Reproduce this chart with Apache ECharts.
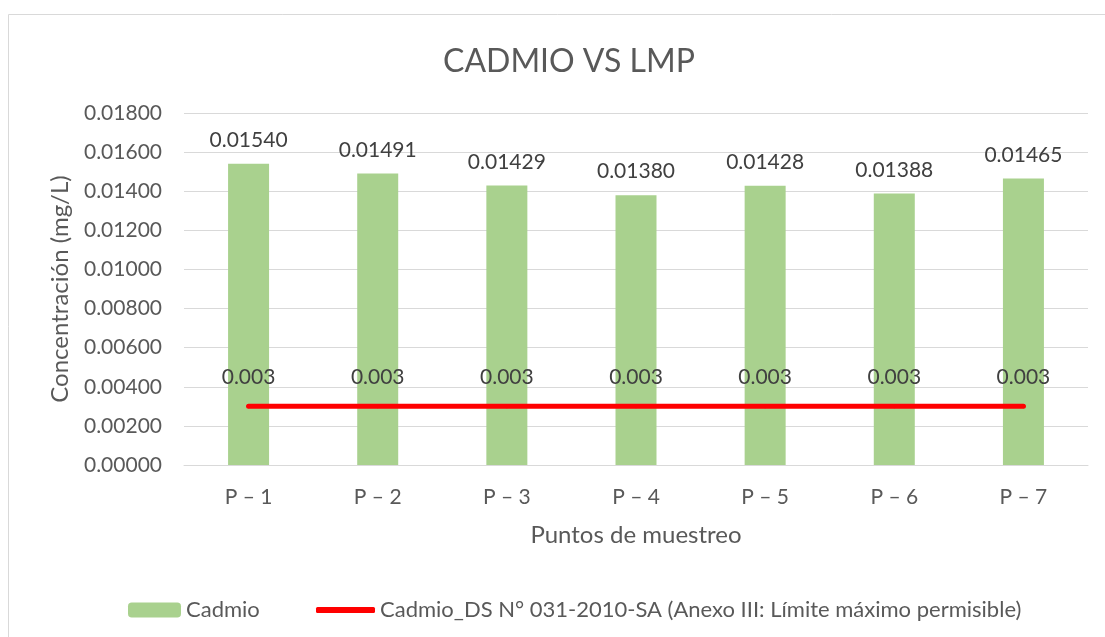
<!DOCTYPE html>
<html>
<head>
<meta charset="utf-8">
<script src="https://cdn.jsdelivr.net/npm/echarts@6/dist/echarts.min.js"></script>
<style>
  html, body { margin: 0; padding: 0; background: #fff; }
  #chart { width: 1105px; height: 637px; }
</style>
</head>
<body>
<div id="chart"></div>
<script>
const categories = ['P – 1', 'P – 2', 'P – 3', 'P – 4', 'P – 5', 'P – 6', 'P – 7']
const cadmio = [0.01540, 0.01491, 0.01429, 0.01380, 0.01428, 0.01388, 0.01465]
const lmp = [0.003, 0.003, 0.003, 0.003, 0.003, 0.003, 0.003]
const yTicks = { min: 0, max: 0.018, interval: 0.002 }

const font = 'Lato, "Noto Sans", sans-serif'
const grey = '#595959'
const lmpName = 'Cadmio_DS N° 031-2010-SA (Anexo III: Límite máximo permisible)'

const chart = echarts.init(document.getElementById('chart'))

chart.setOption({
  animation: false,
  textStyle: { fontFamily: font },
  graphic: [{
    type: 'rect',
    shape: { x: 8.5, y: 14.5, width: 1300, height: 800 },
    style: { fill: 'none', stroke: '#d9d9d9', lineWidth: 1 },
    silent: true
  }],
  title: {
    text: 'CADMIO VS LMP',
    left: 438,
    top: 41,
    textStyle: { fontFamily: font, fontSize: 32, fontWeight: 'normal', color: grey }
  },
  legend: [{
    data: ['Cadmio'],
    left: 123,
    top: 594,
    itemWidth: 53,
    itemHeight: 15,
    itemGap: 0,
    textStyle: { fontFamily: font, fontSize: 22, color: grey }
  }, {
    data: [{ name: lmpName, icon: 'roundRect', itemStyle: { color: '#ff0000' } }],
    left: 311,
    top: 594,
    itemWidth: 59,
    itemHeight: 6,
    textStyle: { fontFamily: font, fontSize: 22, color: grey }
  }],
  grid: { left: 184, right: 17, top: 113, bottom: 172 },
  xAxis: {
    type: 'category',
    data: categories,
    name: 'Puntos de muestreo',
    nameLocation: 'middle',
    nameGap: 58,
    nameTextStyle: { fontSize: 24, color: grey },
    axisLine: { lineStyle: { color: '#d9d9d9' } },
    axisTick: { show: false },
    axisLabel: { fontSize: 21, color: grey, margin: 22 }
  },
  yAxis: {
    type: 'value',
    min: yTicks.min,
    max: yTicks.max,
    interval: yTicks.interval,
    name: 'Concentración (mg/L)',
    nameLocation: 'middle',
    nameGap: 112,
    nameTextStyle: { fontSize: 24, color: grey },
    axisLine: { show: false },
    axisTick: { show: false },
    splitLine: { lineStyle: { color: '#d9d9d9' } },
    axisLabel: {
      fontSize: 21,
      color: grey,
      margin: 22,
      formatter: v => v.toFixed(5)
    }
  },
  series: [{
    name: 'Cadmio',
    type: 'bar',
    data: cadmio,
    barWidth: 41,
    itemStyle: { color: '#a9d18e' },
    label: {
      show: true,
      position: 'top',
      distance: 13,
      fontSize: 21,
      color: '#404040',
      formatter: p => p.value.toFixed(5)
    }
  }, {
    name: lmpName,
    type: 'line',
    data: lmp,
    symbol: 'circle',
    symbolSize: 4,
    showSymbol: true,
    lineStyle: { color: '#ff0000', width: 5, cap: 'round' },
    itemStyle: { color: '#ff0000' },
    label: {
      show: true,
      position: 'top',
      distance: 17,
      fontSize: 21,
      color: '#404040',
      formatter: p => String(p.value)
    }
  }]
})
</script>
</body>
</html>
